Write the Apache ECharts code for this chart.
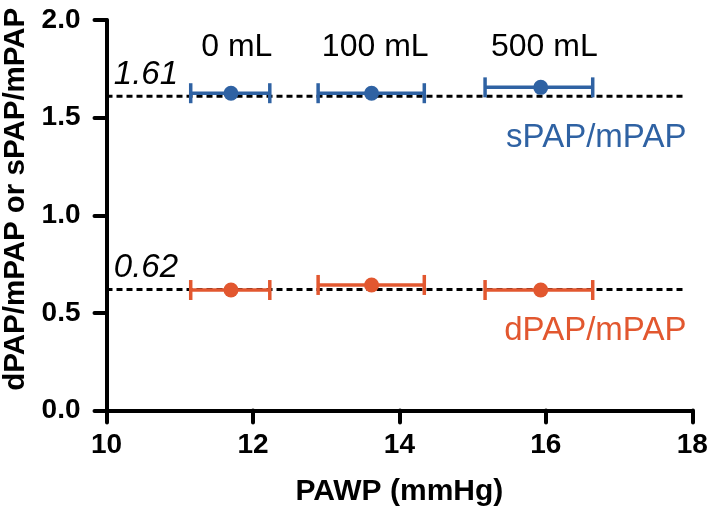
<!DOCTYPE html>
<html>
<head>
<meta charset="utf-8">
<script src="https://cdn.jsdelivr.net/npm/echarts@6/dist/echarts.min.js"></script>
<style>
html,body{margin:0;padding:0;background:#fff;}
#c{width:709px;height:512px;}
</style>
</head>
<body>
<div id="c"></div>
<script>
// ---- data ----
var xTicks = [10, 12, 14, 16, 18];
var yTicks = [0.0, 0.5, 1.0, 1.5, 2.0];
var volumes = ['0 mL', '100 mL', '500 mL'];
var pawpMean = [11.70, 13.62, 15.93];
var pawpLow  = [11.15, 12.89, 15.17];
var pawpHigh = [12.23, 14.34, 16.64];
var sRatio = [1.625, 1.625, 1.655];
var dRatio = [0.617, 0.643, 0.617];
var sRef = 1.61;
var dRef = 0.62;
var refXRange = [10, 17.9];
var volumeLabelX = [11.78, 13.67, 15.98];
var volumeLabelY = 1.86;

var BLUE = '#2f62a3';
var ORANGE = '#e2572f';
var FONT = '"Liberation Sans", Arial, Helvetica, sans-serif';

function errData(yArr) {
  return pawpMean.map(function (m, i) { return [m, yArr[i], pawpLow[i], pawpHigh[i]]; });
}
function errSeries(yArr, color) {
  return {
    type: 'custom',
    data: errData(yArr),
    z: 3,
    renderItem: function (params, api) {
      var y = api.value(1);
      var p1 = api.coord([api.value(2), y]);
      var p2 = api.coord([api.value(3), y]);
      var h = 10;
      var st = { stroke: color, lineWidth: 3.5 };
      return {
        type: 'group',
        children: [
          { type: 'line', shape: { x1: p1[0], y1: p1[1], x2: p2[0], y2: p2[1] }, style: st },
          { type: 'line', shape: { x1: p1[0], y1: p1[1] - h, x2: p1[0], y2: p1[1] + h }, style: st },
          { type: 'line', shape: { x1: p2[0], y1: p2[1] - h, x2: p2[0], y2: p2[1] + h }, style: st }
        ]
      };
    }
  };
}
function refLine(v) {
  return {
    type: 'line',
    data: [[refXRange[0], v], [refXRange[1], v]],
    symbol: 'none',
    silent: true,
    z: 2,
    lineStyle: { color: '#000', width: 3, type: [6, 4] }
  };
}
function textSeries(points, color, size, italic, align) {
  return {
    type: 'scatter',
    data: points,
    symbolSize: 0,
    silent: true,
    z: 5,
    itemStyle: { opacity: 1 },
    label: {
      show: true,
      position: 'inside',
      formatter: function (p) { return p.data[2]; },
      color: color,
      opacity: 1,
      fontSize: size,
      fontFamily: FONT,
      fontStyle: italic ? 'italic' : 'normal',
      align: align,
      verticalAlign: 'middle'
    }
  };
}

var chart = echarts.init(document.getElementById('c'), null, { renderer: 'canvas' });
chart.setOption({
  animation: false,
  backgroundColor: '#fff',
  grid: { left: 106.5, right: 16.7, top: 20, bottom: 101.5, containLabel: false, outerBoundsMode: 'none' },
  xAxis: {
    type: 'value', min: xTicks[0], max: xTicks[xTicks.length - 1], interval: 2,
    name: 'PAWP (mmHg)', nameLocation: 'middle', nameGap: 66,
    nameTextStyle: { fontSize: 30, fontWeight: 'bold', color: '#000', fontFamily: FONT },
    axisLine: { show: true, lineStyle: { color: '#000', width: 4, cap: 'round' } },
    axisTick: { show: true, inside: false, length: 12, lineStyle: { color: '#000', width: 4, cap: 'round' } },
    axisLabel: { fontSize: 28, fontWeight: 'bold', color: '#000', fontFamily: FONT, margin: 21 },
    splitLine: { show: false }
  },
  yAxis: {
    type: 'value', min: yTicks[0], max: yTicks[yTicks.length - 1], interval: 0.5,
    name: 'dPAP/mPAP or sPAP/mPAP', nameLocation: 'middle', nameGap: 65, nameRotate: 90,
    nameTextStyle: { fontSize: 29.5, fontWeight: 'bold', color: '#000', fontFamily: FONT,
      padding: [0, 0, 0, 32] },
    axisLine: { show: true, lineStyle: { color: '#000', width: 4, cap: 'round' } },
    axisTick: { show: true, inside: false, length: 12, lineStyle: { color: '#000', width: 4, cap: 'round' } },
    axisLabel: { fontSize: 28, fontWeight: 'bold', color: '#000', fontFamily: FONT, margin: 26,
      formatter: function (v) { return v.toFixed(1); } },
    splitLine: { show: false }
  },
  series: [
    refLine(sRef),
    refLine(dRef),
    errSeries(sRatio, BLUE),
    errSeries(dRatio, ORANGE),
    { type: 'scatter', data: pawpMean.map(function (m, i) { return [m, sRatio[i]]; }),
      symbol: 'circle', symbolSize: 15, itemStyle: { color: BLUE, opacity: 1 }, z: 4 },
    { type: 'scatter', data: pawpMean.map(function (m, i) { return [m, dRatio[i]]; }),
      symbol: 'circle', symbolSize: 15, itemStyle: { color: ORANGE, opacity: 1 }, z: 4 },
    textSeries(volumes.map(function (v, i) { return [volumeLabelX[i], volumeLabelY, v]; }), '#000', 32, false, 'center'),
    textSeries([[10.1, 1.72, sRef.toFixed(2)], [10.1, 0.73, dRef.toFixed(2)]], '#000', 33, true, 'left'),
    textSeries([[17.92, 1.395, 'sPAP/mPAP']], BLUE, 33, false, 'right'),
    textSeries([[17.92, 0.41, 'dPAP/mPAP']], ORANGE, 33, false, 'right')
  ]
});
</script>
</body>
</html>
